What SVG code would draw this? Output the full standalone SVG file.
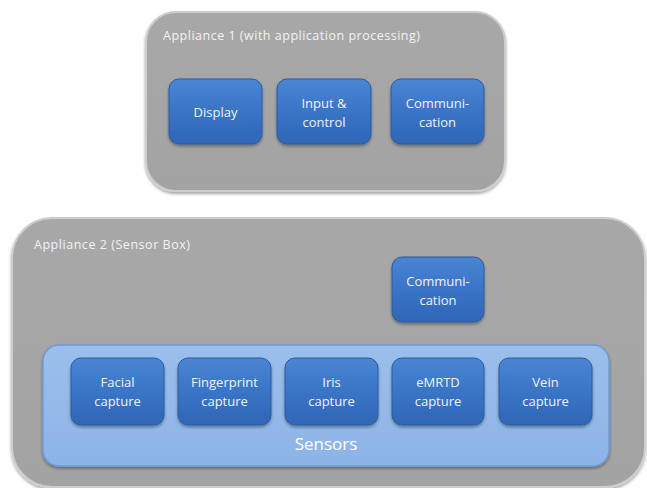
<svg xmlns="http://www.w3.org/2000/svg" width="647" height="488" viewBox="0 0 647 488">
<defs>
<linearGradient id="gray" x1="0" y1="0" x2="0" y2="1">
<stop offset="0" stop-color="#a8a8a8"/><stop offset="1" stop-color="#a3a3a3"/>
</linearGradient>
<linearGradient id="blue" x1="0" y1="0" x2="0" y2="1">
<stop offset="0" stop-color="#4a85d4"/><stop offset="0.5" stop-color="#3a74c6"/><stop offset="1" stop-color="#2f66b6"/>
</linearGradient>
<linearGradient id="lblue" x1="0" y1="0" x2="0" y2="1">
<stop offset="0" stop-color="#9bbfec"/><stop offset="1" stop-color="#8db4e7"/>
</linearGradient>
<filter id="sh" x="-10%" y="-10%" width="130%" height="130%">
<feDropShadow dx="0" dy="2" stdDeviation="1.5" flood-color="#000" flood-opacity="0.35"/>
</filter>
</defs>
<style>
.app{fill:url(#gray);stroke:#cdcdcd;stroke-width:2;filter:url(#sh)}
.box{fill:url(#blue);stroke:#2c5c9e;stroke-width:1;filter:url(#sh)}
.sens{fill:url(#lblue);stroke:#6f9bd6;stroke-width:1.5;filter:url(#sh)}
.title{font-family:"Open Sans","Liberation Sans",sans-serif;font-size:12.5px;fill:#f2f2f2}
.lbl{font-family:"Open Sans","Liberation Sans",sans-serif;font-size:13px;fill:#eef3fa;text-anchor:middle}
.big{font-family:"Open Sans","Liberation Sans",sans-serif;font-size:17px;fill:#ffffff;text-anchor:middle}
</style>
<rect width="647" height="488" fill="#ffffff"/>
<g id="appliance1">
<rect class="app" x="146" y="12" width="359" height="179" rx="30"/>
<text class="title" x="163" y="40" textLength="257">Appliance 1 (with application processing)</text>
</g>
<g id="display">
<rect class="box" x="169" y="79" width="93" height="65" rx="10"/>
<text class="lbl" x="215.5" y="117">Display</text>
</g>
<g id="input">
<rect class="box" x="277" y="79" width="94" height="65" rx="10"/>
<text class="lbl" x="324" y="108">Input &amp;</text>
<text class="lbl" x="324" y="127">control</text>
</g>
<g id="comm1">
<rect class="box" x="391" y="79" width="93" height="65" rx="10"/>
<text class="lbl" x="437.5" y="108">Communi-</text>
<text class="lbl" x="437.5" y="127">cation</text>
</g>
<g id="appliance2">
<rect class="app" x="12" y="218" width="633" height="269" rx="40"/>
<text class="title" x="34" y="249" textLength="156">Appliance 2 (Sensor Box)</text>
</g>
<g id="comm2">
<rect class="box" x="392" y="257" width="92" height="65" rx="10"/>
<text class="lbl" x="438" y="286">Communi-</text>
<text class="lbl" x="438" y="305">cation</text>
</g>
<g id="sensors">
<rect class="sens" x="43" y="345" width="566" height="121" rx="16"/>
<text class="big" x="326" y="450">Sensors</text>
</g>
<g id="facial">
<rect class="box" x="71" y="358" width="93" height="67" rx="10"/>
<text class="lbl" x="117.5" y="387">Facial</text>
<text class="lbl" x="117.5" y="406">capture</text>
</g>
<g id="fingerprint">
<rect class="box" x="178" y="358" width="93" height="67" rx="10"/>
<text class="lbl" x="224.5" y="387">Fingerprint</text>
<text class="lbl" x="224.5" y="406">capture</text>
</g>
<g id="iris">
<rect class="box" x="285" y="358" width="93" height="67" rx="10"/>
<text class="lbl" x="331.5" y="387">Iris</text>
<text class="lbl" x="331.5" y="406">capture</text>
</g>
<g id="emrtd">
<rect class="box" x="392" y="358" width="92" height="67" rx="10"/>
<text class="lbl" x="438" y="387">eMRTD</text>
<text class="lbl" x="438" y="406">capture</text>
</g>
<g id="vein">
<rect class="box" x="499" y="358" width="93" height="67" rx="10"/>
<text class="lbl" x="545.5" y="387">Vein</text>
<text class="lbl" x="545.5" y="406">capture</text>
</g>
<g id="connectors"></g>
</svg>
